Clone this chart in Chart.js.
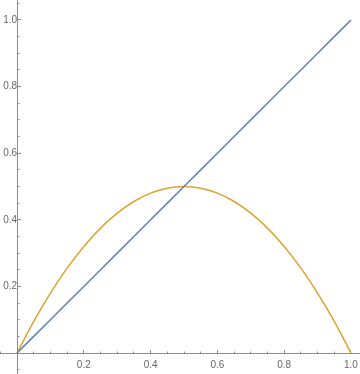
<!DOCTYPE html>
<html>
<head>
<meta charset="utf-8">
<script src="https://cdn.jsdelivr.net/npm/chart.js@4"></script>
<style>
  html, body { margin: 0; padding: 0; background: #fff; }
  #wrap { width: 360px; height: 374px; }
</style>
</head>
<body>
<div id="wrap"><canvas id="grafico"></canvas></div>
<script>
// valores
const xs = [0, 0.05, 0.1, 0.15, 0.2, 0.25, 0.3, 0.35, 0.4, 0.45, 0.5,
            0.55, 0.6, 0.65, 0.7, 0.75, 0.8, 0.85, 0.9, 0.95, 1];
const reta = [0, 0.05, 0.1, 0.15, 0.2, 0.25, 0.3, 0.35, 0.4, 0.45, 0.5,
              0.55, 0.6, 0.65, 0.7, 0.75, 0.8, 0.85, 0.9, 0.95, 1];
const parabola = [0, 0.095, 0.18, 0.255, 0.32, 0.375, 0.42, 0.455, 0.48, 0.495, 0.5,
                  0.495, 0.48, 0.455, 0.42, 0.375, 0.32, 0.255, 0.18, 0.095, 0];
const ticksMaiores = [0.2, 0.4, 0.6, 0.8, 1.0];

const corEixo = '#8c8c8c';
const corTexto = '#666666';

function pontos(ys) {
    return xs.map((x, i) => ({ x: x, y: ys[i] }));
}

function rotulo(v) {
    const r = Math.round(v * 1000) / 1000;
    return ticksMaiores.includes(r) ? r.toFixed(1) : '';
}

function eixo(tipo, minimo, maximo, passo, comp, rotulos) {
    return {
        type: 'linear',
        axis: tipo,
        position: tipo === 'x' ? { y: 0 } : { x: 0 },
        min: minimo,
        max: maximo,
        afterBuildTicks: s => {
            const t = [];
            for (let v = Math.ceil(minimo / passo) * passo; v <= maximo + 1e-9; v += passo) {
                t.push({ value: Math.round(v * 1000) / 1000 });
            }
            s.ticks = t;
        },
        // sem folga extra em volta da área do gráfico
        afterFit: s => {
            s.paddingLeft = 0; s.paddingRight = 0;
            s.paddingTop = 0; s.paddingBottom = 0;
        },
        grid: {
            display: true,
            drawOnChartArea: false,
            drawTicks: true,
            tickLength: -comp,
            color: corEixo,
            tickWidth: 1
        },
        border: { display: true, color: corEixo, width: 1 },
        ticks: {
            display: rotulos,
            padding: tipo === 'x' ? 10 : -2,
            color: corTexto,
            font: { family: 'Liberation Sans', size: 10 },
            callback: v => rotulos ? rotulo(v) : ''
        }
    };
}

new Chart(document.querySelector('#grafico'), {
    type: 'scatter',
    data: {
        datasets: [
            {
                data: pontos(reta),
                showLine: true,
                borderColor: '#5e81b5',
                borderWidth: 1.5,
                pointRadius: 0,
                xAxisID: 'x',
                yAxisID: 'y'
            },
            {
                data: pontos(parabola),
                showLine: true,
                borderColor: '#dea22e',
                borderWidth: 1.5,
                pointRadius: 0,
                cubicInterpolationMode: 'monotone',
                xAxisID: 'x',
                yAxisID: 'y'
            }
        ]
    },
    options: {
        responsive: true,
        maintainAspectRatio: false,
        animation: false,
        layout: { padding: 0 },
        plugins: { legend: { display: false }, tooltip: { enabled: false } },
        scales: {
            x: eixo('x', -0.051, 1.027, 0.2, 4, true),
            xm: eixo('x', -0.051, 1.027, 0.05, 2.5, false),
            y: eixo('y', -0.063, 1.06, 0.2, 4, true),
            ym: eixo('y', -0.063, 1.06, 0.05, 2.5, false)
        }
    }
});
</script>
</body>
</html>
